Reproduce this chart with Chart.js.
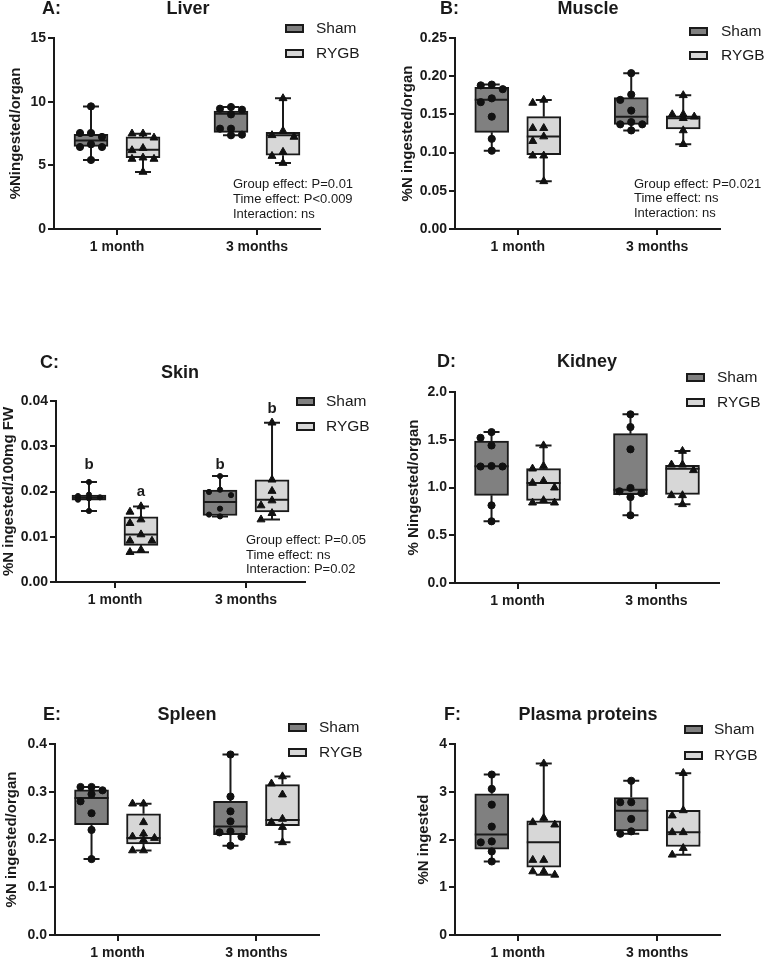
<!DOCTYPE html>
<html><head><meta charset="utf-8">
<script src="https://cdn.jsdelivr.net/npm/chart.js@4.4.1/dist/chart.umd.min.js"></script>
<style>
html,body{margin:0;padding:0;background:#fff;}
body{width:765px;height:959px;position:relative;overflow:hidden;font-family:"Liberation Sans",Arial,sans-serif;color:#1a1a1a;}
canvas{position:absolute;}
.t{position:absolute;white-space:nowrap;line-height:1;}
.lbl{font-weight:bold;font-size:18px;}
.ttl{font-weight:bold;font-size:18px;transform:translateX(-50%);}
.leg{font-size:15.5px;}
.sw{position:absolute;width:15px;height:5px;border:2px solid #1a1a1a;}
.note{font-size:13px;}
</style></head><body>
<script>
// ---------- categories / labels ----------
const timepoints = ['1 month', '3 months'];
const groupNames = ['Sham', 'RYGB'];

// ---------- A: Liver ----------
const liverSham1m = [9.63, 7.54, 7.54, 7.23, 6.65, 6.44, 6.44, 5.42];
const liverRygb1m = [7.49, 7.49, 7.17, 6.35, 6.18, 5.60, 5.50, 5.50, 4.48];
const liverSham3m = [9.58, 9.45, 9.37, 9.00, 7.88, 7.88, 7.41, 7.36];
const liverRygb3m = [10.26, 7.70, 7.36, 7.23, 6.05, 5.73, 5.18];
const liverQuartiles = [[6.49, 6.96, 7.43], [5.60, 6.23, 7.23], [7.59, 9.06, 9.27], [5.79, 7.36, 7.59]];
const liverNotes = ['Group effect: P=0.01', 'Time effect: P<0.009', 'Interaction: ns'];

// ---------- B: Muscle ----------
const muscleSham1m = [0.189, 0.188, 0.183, 0.171, 0.166, 0.147, 0.118, 0.1025];
const muscleRygb1m = [0.169, 0.165, 0.132, 0.132, 0.121, 0.115, 0.096, 0.096, 0.0624];
const muscleSham3m = [0.204, 0.176, 0.169, 0.155, 0.140, 0.137, 0.137, 0.129];
const muscleRygb3m = [0.175, 0.150, 0.150, 0.147, 0.145, 0.129, 0.111];
const muscleQuartiles = [[0.1265, 0.1693, 0.1854], [0.0973, 0.121, 0.147], [0.137, 0.147, 0.172], [0.131, 0.145, 0.148]];
const muscleNotes = ['Group effect: P=0.021', 'Time effect: ns', 'Interaction: ns'];

// ---------- C: Skin ----------
const skinSham1m = [0.0221, 0.0193, 0.0190, 0.0187, 0.0185, 0.0182, 0.0157];
const skinRygb1m = [0.0167, 0.0155, 0.0138, 0.0130, 0.0105, 0.0091, 0.0091, 0.0071, 0.0066];
const skinSham3m = [0.0234, 0.0204, 0.0199, 0.0192, 0.0162, 0.0149, 0.0145];
const skinRygb3m = [0.0352, 0.0226, 0.0201, 0.0180, 0.0169, 0.0152, 0.0138];
const skinQuartiles = [[0.0181, 0.0186, 0.0192], [0.0081, 0.0105, 0.0144], [0.0147, 0.0177, 0.0203], [0.0155, 0.0182, 0.0226]];
const skinNotes = ['Group effect: P=0.05', 'Time effect: ns', 'Interaction: P=0.02'];
const skinLetters = ['b', 'a', 'b', 'b'];
const skinLetterY = [0.0258, 0.0199, 0.0258, 0.0383];

// ---------- D: Kidney ----------
const kidneySham1m = [1.58, 1.52, 1.44, 1.22, 1.225, 1.22, 0.813, 0.646];
const kidneyRygb1m = [1.44, 1.225, 1.197, 1.068, 1.047, 0.998, 0.866, 0.841, 0.841];
const kidneySham3m = [1.766, 1.633, 1.40, 0.995, 0.960, 0.942, 0.900, 0.709];
const kidneyRygb3m = [1.382, 1.239, 1.239, 1.18, 0.918, 0.918, 0.824];
const kidneyQuartiles = [[0.918, 1.222, 1.487], [0.866, 1.047, 1.197], [0.925, 0.977, 1.564], [0.928, 1.197, 1.232]];

// ---------- E: Spleen ----------
const spleenSham1m = [0.310, 0.310, 0.303, 0.295, 0.280, 0.255, 0.220, 0.159];
const spleenRygb1m = [0.275, 0.275, 0.236, 0.212, 0.206, 0.203, 0.199, 0.177, 0.177];
const spleenSham3m = [0.378, 0.290, 0.259, 0.238, 0.217, 0.215, 0.206, 0.187];
const spleenRygb3m = [0.332, 0.317, 0.294, 0.243, 0.236, 0.226, 0.194];
const spleenQuartiles = [[0.231, 0.287, 0.304], [0.191, 0.203, 0.254], [0.210, 0.227, 0.280], [0.229, 0.241, 0.315]];

// ---------- F: Plasma proteins ----------
const plasmaSham1m = [3.36, 3.06, 2.73, 2.27, 1.96, 1.94, 1.75, 1.54];
const plasmaRygb1m = [3.59, 2.45, 2.36, 2.31, 1.57, 1.57, 1.33, 1.33, 1.26];
const plasmaSham3m = [3.23, 2.78, 2.78, 2.43, 2.17, 2.12];
const plasmaRygb3m = [3.39, 2.61, 2.50, 2.15, 2.15, 1.82, 1.68];
const plasmaQuartiles = [[1.797, 2.105, 2.958], [1.42, 1.944, 2.392], [2.18, 2.60, 2.88], [1.853, 2.154, 2.61]];

// ---------- panel definitions (built from the arrays above) ----------
const panels = [
  {key:'A', title:'Liver', yTitle:'%Ningested/organ', yMax:15, yStep:5, dec:0,
   pts:[liverSham1m, liverRygb1m, liverSham3m, liverRygb3m], q:liverQuartiles, notes:liverNotes},
  {key:'B', title:'Muscle', yTitle:'%N ingested/organ', yMax:0.25, yStep:0.05, dec:2,
   pts:[muscleSham1m, muscleRygb1m, muscleSham3m, muscleRygb3m], q:muscleQuartiles, notes:muscleNotes},
  {key:'C', title:'Skin', yTitle:'%N ingested/100mg FW', yMax:0.04, yStep:0.01, dec:2,
   pts:[skinSham1m, skinRygb1m, skinSham3m, skinRygb3m], q:skinQuartiles, notes:skinNotes,
   letters:skinLetters, letterY:skinLetterY, shamR:2.6},
  {key:'D', title:'Kidney', yTitle:'% Ningested/organ', yMax:2.0, yStep:0.5, dec:1,
   pts:[kidneySham1m, kidneyRygb1m, kidneySham3m, kidneyRygb3m], q:kidneyQuartiles},
  {key:'E', title:'Spleen', yTitle:'%N ingested/organ', yMax:0.4, yStep:0.1, dec:1,
   pts:[spleenSham1m, spleenRygb1m, spleenSham3m, spleenRygb3m], q:spleenQuartiles},
  {key:'F', title:'Plasma proteins', yTitle:'%N ingested', yMax:4, yStep:1, dec:0,
   pts:[plasmaSham1m, plasmaRygb1m, plasmaSham3m, plasmaRygb3m], q:plasmaQuartiles}
];

// ---------- layout (positions / sizes / styles) ----------
const FONT = '"Liberation Sans", Arial, sans-serif';
const INK = '#1a1a1a';
const DARK = '#808080', LIGHT = '#d7d7d7';
const X_MIN = -0.45, X_MAX = 1.45;
const BOX_OFF_PX = 26, BOX_W_PX = 34, CAP_HALF_PX = 8, SWARM_STEP = 11, SWARM_HIT = 7.5, XH = 30;
const geo = {
  A:{ox:0,  oy:0,   w:382, h:300, L:54,  T:38,  R:320, B:229, yTX:16,  lx:42,  ly:8,   tx:188, ty:8,   swx:285, legx:316, legy:[28,53],  nx:233, ny:[183,198,213]},
  B:{ox:382,oy:0,   w:383, h:300, L:455, T:38,  R:720, B:229, yTX:408, lx:440, ly:8,   tx:588, ty:8,   swx:689, legx:721, legy:[31,55],  nx:634, ny:[183,197,212]},
  C:{ox:0,  oy:300, w:382, h:320, L:56,  T:401, R:305, B:582, yTX:9,   lx:40,  ly:362, tx:180, ty:372, swx:296, legx:326, legy:[401,426], nx:246, ny:[539,554,568]},
  D:{ox:382,oy:300, w:383, h:320, L:455, T:392, R:719, B:583, yTX:414, lx:437, ly:361, tx:587, ty:361, swx:686, legx:717, legy:[377,402]},
  E:{ox:0,  oy:640, w:382, h:340, L:55,  T:744, R:319, B:935, yTX:12,  lx:43,  ly:714, tx:187, ty:714, swx:288, legx:319, legy:[727,752]},
  F:{ox:382,oy:640, w:383, h:340, L:455, T:744, R:720, B:935, yTX:424, lx:444, ly:714, tx:588, ty:714, swx:684, legx:714, legy:[729,755]}
};

function addText(txt, cls, left, cy, size) {
  const d = document.createElement('div');
  d.className = 't ' + cls;
  d.textContent = txt;
  d.style.left = left + 'px';
  d.style.top = (cy - size / 2) + 'px';
  document.body.appendChild(d);
  return d;
}

// beeswarm offsets (px) computed from the values: at most one step either side of the box centre
function swarm(vals, pxPerY) {
  const order = vals.map((v, i) => i).sort((a, b) => vals[b] - vals[a]);
  const placed = [], out = new Array(vals.length).fill(0);
  const cands = [0, -SWARM_STEP, SWARM_STEP];
  order.forEach(i => {
    const y = vals[i] * pxPerY;
    let best = 0, bestD = -1;
    for (const c of cands) {
      const d = placed.length ? Math.min(...placed.map(p => Math.hypot(p.x - c, p.y - y))) : Infinity;
      if (d >= SWARM_HIT) { best = c; bestD = d; break; }
      if (d > bestD) { bestD = d; best = c; }
    }
    placed.push({x: best, y}); out[i] = best;
  });
  return out;
}

const letterPlugin = {
  id: 'letters',
  afterDatasetsDraw(chart, args, opts) {
    if (!opts || !opts.letters) return;
    const {ctx, scales} = chart;
    ctx.save();
    ctx.font = 'bold 15px ' + FONT;
    ctx.fillStyle = INK;
    ctx.textAlign = 'center';
    ctx.textBaseline = 'middle';
    opts.letters.forEach((l, i) => {
      ctx.fillText(l, scales.x.getPixelForValue(opts.centers[i]), scales.y.getPixelForValue(opts.ys[i]));
    });
    ctx.restore();
  }
};

panels.forEach(p => {
  const g = geo[p.key];
  const canvas = document.createElement('canvas');
  canvas.width = g.w; canvas.height = g.h;
  canvas.style.left = g.ox + 'px'; canvas.style.top = g.oy + 'px';
  canvas.style.width = g.w + 'px'; canvas.style.height = g.h + 'px';
  document.body.appendChild(canvas);

  const plotW = g.R - g.L, plotH = g.B - g.T;
  const pxPerX = plotW / (X_MAX - X_MIN);
  const pxPerY = plotH / p.yMax;
  const off = BOX_OFF_PX / pxPerX, half = BOX_W_PX / 2 / pxPerX, cap = CAP_HALF_PX / pxPerX;
  const centers = [0 - off, 0 + off, 1 - off, 1 + off];

  const boxData = p.q.map((q, i) => ({x: centers[i], y: [q[0], q[2]]}));
  const lineData = [];
  p.q.forEach((q, i) => {
    const c = centers[i], vals = p.pts[i];
    const mn = Math.min(...vals), mx = Math.max(...vals);
    lineData.push(
      {x:c, y:q[2]}, {x:c, y:mx}, {x:c, y:null},
      {x:c - cap, y:mx}, {x:c + cap, y:mx}, {x:c, y:null},
      {x:c, y:q[0]}, {x:c, y:mn}, {x:c, y:null},
      {x:c - cap, y:mn}, {x:c + cap, y:mn}, {x:c, y:null},
      {x:c - half, y:q[1]}, {x:c + half, y:q[1]}, {x:c, y:null}
    );
  });
  const shamPts = [], rygbPts = [];
  p.pts.forEach((vals, i) => {
    const offs = swarm(vals, pxPerY);
    vals.forEach((v, k) => (i % 2 ? rygbPts : shamPts).push({x: centers[i] + offs[k] / pxPerX, y: v}));
  });

  const padL = Math.max(0, g.yTX - g.ox - 9);
  const tickFont = {family: FONT, size: 14, weight: 'bold'};
  const gridOpts = {display: true, drawOnChartArea: false, drawTicks: true, tickLength: 6, tickWidth: 2,
                    tickColor: INK, color: INK, lineWidth: 2, offset: false};
  const borderOpts = {display: true, color: INK, width: 2};

  new Chart(canvas, {
    type: 'bar',
    data: {datasets: [
      {type: 'scatter', label: groupNames[0], data: shamPts, pointStyle: 'circle', pointRadius: p.shamR || 3.6,
       backgroundColor: '#111', borderColor: '#111', borderWidth: 1, order: 0},
      {type: 'scatter', label: groupNames[1], data: rygbPts, pointStyle: 'triangle', pointRadius: 4.6,
       backgroundColor: '#111', borderColor: '#111', borderWidth: 1, order: 0},
      {type: 'line', label: 'whiskers', data: lineData, borderColor: INK, borderWidth: 2, pointRadius: 0,
       spanGaps: false, fill: false, tension: 0, borderCapStyle: 'butt', order: 1},
      {type: 'bar', label: 'boxes', data: boxData, backgroundColor: centers.map((c, i) => i % 2 ? LIGHT : DARK),
       borderColor: INK, borderWidth: 2, borderSkipped: false, barThickness: BOX_W_PX, order: 2}
    ]},
    options: {
      responsive: false, animation: false, events: [],
      layout: {padding: {left: padL, top: g.T - g.oy, right: g.ox + g.w - g.R, bottom: Math.max(0, g.oy + g.h - g.B - XH)}},
      plugins: {legend: {display: false}, tooltip: {enabled: false}, title: {display: false},
                letters: p.letters ? {letters: p.letters, ys: p.letterY, centers} : {}},
      scales: {
        x: {type: 'linear', min: X_MIN, max: X_MAX, offset: false,
            grid: gridOpts, border: borderOpts,
            ticks: {font: tickFont, color: INK, padding: 4, maxRotation: 0, autoSkip: false,
                    callback: v => (timepoints[v] !== undefined ? timepoints[v] : '')},
            afterBuildTicks: s => { s.ticks = [{value: 0}, {value: 1}]; },
            afterFit: s => { s.height = XH; }},
        y: {type: 'linear', min: 0, max: p.yMax,
            grid: gridOpts, border: borderOpts,
            ticks: {stepSize: p.yStep, font: tickFont, color: INK, padding: 2,
                    callback: v => Number(v).toFixed(p.dec)},
            title: {display: true, text: p.yTitle, color: INK, padding: 0,
                    font: {family: FONT, size: 15, weight: 'bold'}},
            afterFit: s => { s.width = g.L - g.ox - padL; }}
      }
    },
    plugins: [letterPlugin]
  });

  // panel letter, title, legend, notes
  addText(p.key + ':', 'lbl', g.lx, g.ly, 18);
  addText(p.title, 'ttl', g.tx, g.ty, 18);
  groupNames.forEach((name, i) => {
    const sw = document.createElement('div');
    sw.className = 'sw';
    sw.style.left = g.swx + 'px';
    sw.style.top = (g.legy[i] - 4.5) + 'px';
    sw.style.background = i ? LIGHT : DARK;
    document.body.appendChild(sw);
    addText(name, 'leg', g.legx, g.legy[i], 15.5);
  });
  if (p.notes) p.notes.forEach((n, i) => addText(n, 'note', g.nx, g.ny[i], 13));
});
</script>
</body></html>
